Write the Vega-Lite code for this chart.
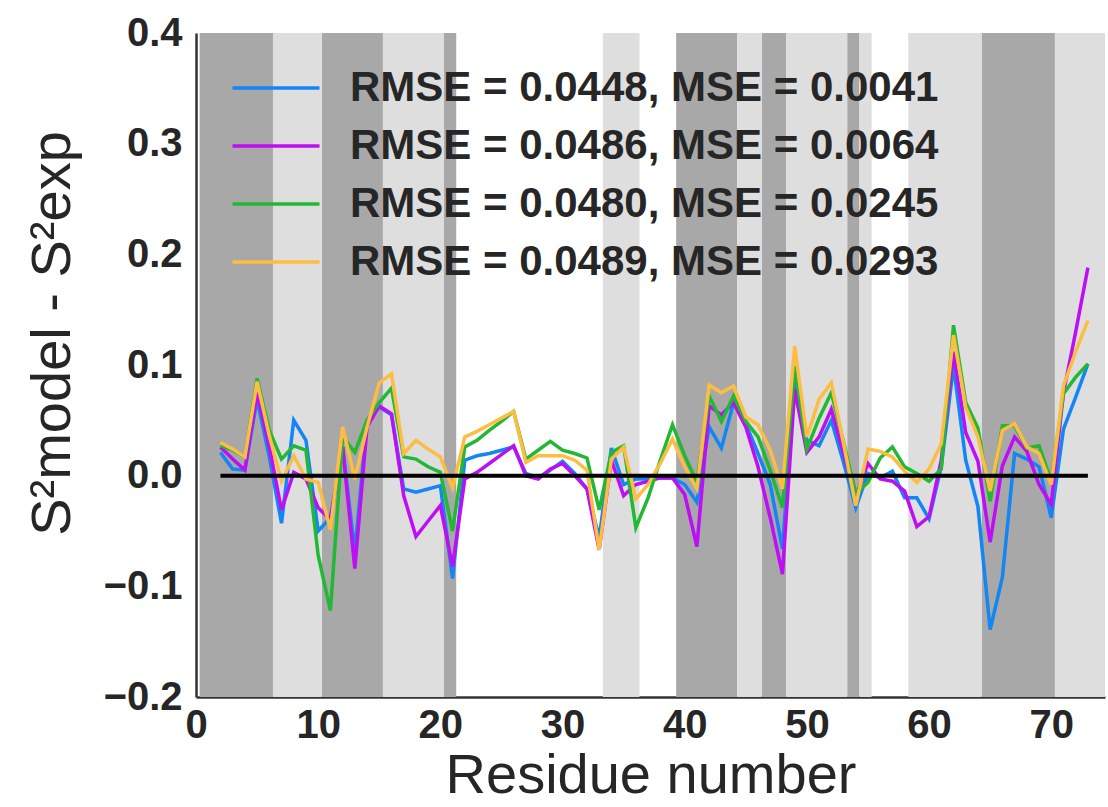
{
  "$schema": "https://vega.github.io/schema/vega-lite/v6.json",
  "width": 909,
  "height": 664,
  "autosize": {"type": "none"},
  "padding": {"left": 196, "top": 33, "right": 3, "bottom": 110},
  "background": "white",
  "config": {
    "view": {"stroke": null},
    "font": "Liberation Sans",
    "axis": {"grid": false, "ticks": false, "domainColor": "#333333", "domainWidth": 2.5, "labelColor": "#262626", "titleColor": "#262626", "labelFont": "Liberation Sans", "labelFontWeight": "bold", "labelFontSize": 40, "titleFont": "Liberation Sans", "titleFontWeight": "normal", "titleFontSize": 56}
  },
  "datasets": {
    "bands": [
      {"start": 0.3, "end": 6.3, "tone": "dark"},
      {"start": 6.3, "end": 10.3, "tone": "light"},
      {"start": 10.3, "end": 15.3, "tone": "dark"},
      {"start": 15.3, "end": 20.3, "tone": "light"},
      {"start": 20.3, "end": 21.3, "tone": "dark"},
      {"start": 33.3, "end": 36.3, "tone": "light"},
      {"start": 39.3, "end": 44.3, "tone": "dark"},
      {"start": 44.3, "end": 46.3, "tone": "light"},
      {"start": 46.3, "end": 48.3, "tone": "dark"},
      {"start": 48.3, "end": 53.3, "tone": "light"},
      {"start": 53.3, "end": 54.3, "tone": "dark"},
      {"start": 54.3, "end": 55.3, "tone": "light"},
      {"start": 58.3, "end": 64.3, "tone": "light"},
      {"start": 64.3, "end": 70.3, "tone": "dark"},
      {"start": 70.3, "end": 74.4, "tone": "light"}
    ],
    "zero": [{"start": 2, "end": 73, "level": 0}],
    "wide": [
      {"r": 2, "a": 0.021, "b": 0.026, "c": 0.027, "d": 0.030},
      {"r": 3, "a": 0.006, "b": 0.015, "c": 0.023, "d": 0.024},
      {"r": 4, "a": 0.005, "b": 0.005, "c": 0.017, "d": 0.017},
      {"r": 5, "a": 0.069, "b": 0.075, "c": 0.088, "d": 0.085},
      {"r": 6, "a": 0.017, "b": 0.026, "c": 0.041, "d": 0.036},
      {"r": 7, "a": -0.043, "b": -0.031, "c": 0.015, "d": -0.005},
      {"r": 8, "a": 0.050, "b": 0.003, "c": 0.027, "d": 0.018},
      {"r": 9, "a": 0.032, "b": -0.003, "c": 0.023, "d": -0.003},
      {"r": 10, "a": -0.050, "b": -0.029, "c": -0.072, "d": -0.006},
      {"r": 11, "a": -0.038, "b": -0.040, "c": -0.122, "d": -0.049},
      {"r": 12, "a": 0.026, "b": 0.026, "c": 0.035, "d": 0.044},
      {"r": 13, "a": -0.069, "b": -0.084, "c": 0.021, "d": -0.003},
      {"r": 14, "a": 0.050, "b": 0.044, "c": 0.050, "d": 0.044},
      {"r": 15, "a": 0.062, "b": 0.063, "c": 0.066, "d": 0.084},
      {"r": 16, "a": 0.055, "b": 0.056, "c": 0.079, "d": 0.092},
      {"r": 17, "a": -0.012, "b": -0.018, "c": 0.017, "d": 0.020},
      {"r": 18, "a": -0.015, "b": -0.055, "c": 0.015, "d": 0.032},
      {"r": 19, "a": -0.012, "b": -0.041, "c": 0.008, "d": 0.024},
      {"r": 20, "a": -0.009, "b": -0.027, "c": 0.003, "d": 0.017},
      {"r": 21, "a": -0.093, "b": -0.082, "c": -0.050, "d": -0.011},
      {"r": 22, "a": 0.014, "b": -0.003, "c": 0.026, "d": 0.035},
      {"r": 23, "a": 0.018, "b": 0.003, "c": 0.032, "d": 0.040},
      {"r": 24, "a": 0.020, "b": 0.011, "c": 0.041, "d": 0.046},
      {"r": 25, "a": 0.023, "b": 0.019, "c": 0.049, "d": 0.052},
      {"r": 26, "a": 0.026, "b": 0.027, "c": 0.058, "d": 0.058},
      {"r": 27, "a": 0.002, "b": 0.000, "c": 0.015, "d": 0.012},
      {"r": 28, "a": -0.002, "b": -0.003, "c": 0.023, "d": 0.018},
      {"r": 29, "a": 0.005, "b": 0.006, "c": 0.031, "d": 0.018},
      {"r": 30, "a": 0.013, "b": 0.011, "c": 0.023, "d": 0.018},
      {"r": 31, "a": 0.002, "b": 0.000, "c": 0.020, "d": 0.014},
      {"r": 32, "a": -0.012, "b": -0.012, "c": 0.016, "d": 0.005},
      {"r": 33, "a": -0.056, "b": -0.067, "c": -0.031, "d": -0.067},
      {"r": 34, "a": 0.025, "b": 0.014, "c": 0.021, "d": 0.015},
      {"r": 35, "a": -0.008, "b": -0.018, "c": 0.027, "d": 0.026},
      {"r": 36, "a": -0.003, "b": -0.008, "c": -0.047, "d": -0.021},
      {"r": 37, "a": -0.003, "b": -0.005, "c": -0.020, "d": -0.008},
      {"r": 38, "a": -0.002, "b": -0.002, "c": 0.014, "d": 0.011},
      {"r": 39, "a": -0.002, "b": -0.002, "c": 0.046, "d": 0.033},
      {"r": 40, "a": -0.008, "b": -0.017, "c": 0.018, "d": 0.008},
      {"r": 41, "a": -0.024, "b": -0.064, "c": -0.006, "d": -0.012},
      {"r": 42, "a": 0.044, "b": 0.063, "c": 0.072, "d": 0.082},
      {"r": 43, "a": 0.025, "b": 0.055, "c": 0.049, "d": 0.075},
      {"r": 44, "a": 0.066, "b": 0.066, "c": 0.072, "d": 0.081},
      {"r": 45, "a": 0.047, "b": 0.044, "c": 0.049, "d": 0.053},
      {"r": 46, "a": 0.020, "b": 0.008, "c": 0.035, "d": 0.046},
      {"r": 47, "a": -0.008, "b": -0.038, "c": 0.005, "d": 0.023},
      {"r": 48, "a": -0.066, "b": -0.089, "c": -0.029, "d": -0.012},
      {"r": 49, "a": 0.088, "b": 0.078, "c": 0.099, "d": 0.117},
      {"r": 50, "a": 0.032, "b": 0.021, "c": 0.024, "d": 0.035},
      {"r": 51, "a": 0.027, "b": 0.035, "c": 0.052, "d": 0.069},
      {"r": 52, "a": 0.050, "b": 0.060, "c": 0.075, "d": 0.084},
      {"r": 53, "a": 0.012, "b": 0.020, "c": 0.030, "d": 0.029},
      {"r": 54, "a": -0.029, "b": -0.019, "c": -0.016, "d": -0.027},
      {"r": 55, "a": 0.002, "b": 0.011, "c": -0.006, "d": 0.024},
      {"r": 56, "a": -0.002, "b": -0.003, "c": 0.016, "d": 0.022},
      {"r": 57, "a": 0.004, "b": -0.005, "c": 0.026, "d": 0.017},
      {"r": 58, "a": -0.020, "b": -0.014, "c": 0.008, "d": 0.004},
      {"r": 59, "a": -0.020, "b": -0.046, "c": 0.002, "d": -0.006},
      {"r": 60, "a": -0.039, "b": -0.037, "c": -0.005, "d": 0.006},
      {"r": 61, "a": 0.008, "b": 0.014, "c": 0.006, "d": 0.029},
      {"r": 62, "a": 0.099, "b": 0.112, "c": 0.136, "d": 0.127},
      {"r": 63, "a": 0.014, "b": 0.039, "c": 0.066, "d": 0.062},
      {"r": 64, "a": -0.028, "b": 0.013, "c": 0.043, "d": 0.035},
      {"r": 65, "a": -0.139, "b": -0.060, "c": -0.023, "d": -0.014},
      {"r": 66, "a": -0.092, "b": 0.009, "c": 0.045, "d": 0.041},
      {"r": 67, "a": 0.020, "b": 0.035, "c": 0.045, "d": 0.047},
      {"r": 68, "a": 0.015, "b": 0.022, "c": 0.025, "d": 0.026},
      {"r": 69, "a": 0.008, "b": -0.008, "c": 0.027, "d": 0.020},
      {"r": 70, "a": -0.038, "b": -0.026, "c": -0.005, "d": -0.008},
      {"r": 71, "a": 0.042, "b": 0.075, "c": 0.074, "d": 0.081},
      {"r": 72, "a": 0.071, "b": 0.130, "c": 0.089, "d": 0.112},
      {"r": 73, "a": 0.101, "b": 0.188, "c": 0.101, "d": 0.140}
    ]
  },
  "layer": [
    {
      "data": {"name": "bands"},
      "transform": [{"filter": "datum.tone === 'dark'"}],
      "mark": {"type": "rect", "color": "#a8a8a8", "strokeWidth": 0},
      "encoding": {
        "x": {"field": "start", "type": "quantitative", "scale": {"domain": [0, 74.4], "nice": false, "zero": false}, "axis": {"values": [0, 10, 20, 30, 40, 50, 60, 70], "title": "Residue number", "labelPadding": 8, "titlePadding": 3, "labelFlush": false}},
        "x2": {"field": "end"}
      }
    },
    {
      "data": {"name": "bands"},
      "transform": [{"filter": "datum.tone === 'light'"}],
      "mark": {"type": "rect", "color": "#dedede", "strokeWidth": 0},
      "encoding": {
        "x": {"field": "start", "type": "quantitative"},
        "x2": {"field": "end"}
      }
    },
    {
      "data": {"name": "wide"},
      "transform": [
        {"fold": ["a", "b", "c", "d"], "as": ["key", "value"]},
        {"lookup": "key", "from": {"data": {"values": [
          {"key": "a", "model": "RMSE = 0.0448, MSE = 0.0041"},
          {"key": "b", "model": "RMSE = 0.0486, MSE = 0.0064"},
          {"key": "c", "model": "RMSE = 0.0480, MSE = 0.0245"},
          {"key": "d", "model": "RMSE = 0.0489, MSE = 0.0293"}
        ]}, "key": "key", "fields": ["model"]}}
      ],
      "mark": {"type": "line", "strokeWidth": 3.5, "strokeJoin": "miter", "clip": true},
      "encoding": {
        "x": {"field": "r", "type": "quantitative"},
        "y": {"field": "value", "type": "quantitative", "scale": {"domain": [-0.2, 0.4], "nice": false, "zero": false}, "axis": {"values": [-0.2, -0.1, 0, 0.1, 0.2, 0.3, 0.4], "format": ".1f", "title": "S²model - S²exp", "labelPadding": 14, "titlePadding": 22, "labelFlush": false, "titleY": 300}},
        "color": {
          "field": "model", "type": "nominal",
          "scale": {"domain": ["RMSE = 0.0448, MSE = 0.0041", "RMSE = 0.0486, MSE = 0.0064", "RMSE = 0.0480, MSE = 0.0245", "RMSE = 0.0489, MSE = 0.0293"], "range": ["#1386f5", "#bd0ef5", "#22b833", "#fdbd40"]},
          "legend": {"orient": "none", "legendX": 59, "legendY": 34, "title": null, "symbolType": "M-3,0H3", "symbolSize": 841, "symbolStrokeWidth": 3.5, "labelFontSize": 42, "labelFont": "Liberation Sans", "labelFontWeight": "bold", "labelColor": "#262626", "labelOffset": 53, "labelLimit": 1000, "rowPadding": 16, "padding": 0}
        },
        "detail": {"field": "key"}
      }
    },
    {
      "data": {"name": "zero"},
      "mark": {"type": "rule", "color": "black", "strokeWidth": 4},
      "encoding": {
        "x": {"field": "start", "type": "quantitative"},
        "x2": {"field": "end"},
        "y": {"field": "level", "type": "quantitative"}
      }
    }
  ]
}
